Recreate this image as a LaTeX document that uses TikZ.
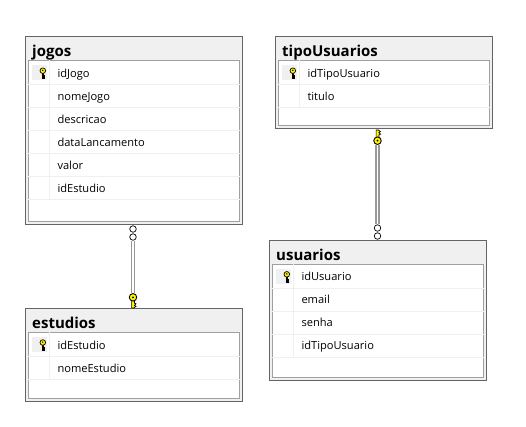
\documentclass[tikz,border=0pt]{standalone}
\usepackage{fontspec}
\setmainfont{Open Sans}
\usetikzlibrary{positioning}
\definecolor{boxline}{HTML}{646464}
\definecolor{inline}{HTML}{A0A0A0}
\definecolor{softgray}{HTML}{F0F0F0}
\definecolor{keyyellow}{HTML}{FFF200}
\tikzset{
	tablebox/.style={draw=boxline,line width=1pt,fill=softgray,minimum width=217pt,inner sep=0pt},
	tablein/.style={draw=inline,line width=1pt,fill=white,minimum width=211.5pt,inner sep=0pt},
	tabletitle/.style={anchor=base west,inner sep=0pt,font=\fontsize{15}{16}\selectfont\bfseries},
	fieldname/.style={anchor=west,minimum width=190pt,minimum height=23pt,text width=182pt,text height=9.2pt,text depth=0pt,inner xsep=8pt,inner ysep=0pt,font=\fontsize{11.1}{12}\selectfont},
	keycell/.style={fill=softgray,minimum width=15pt,minimum height=15pt,inner sep=0pt},
	rowline/.style={draw=softgray,line width=1pt},
	relbar/.style={draw=gray!80,line width=1.2pt,double=white,double distance=1.8pt},
	crowring/.style={circle,draw=black,fill=white,line width=0.7pt,minimum size=6.5pt,inner sep=0pt},
	keyhole/.style={circle,draw=black,fill=keyyellow,line width=0.9pt,minimum size=7.5pt,inner sep=0pt},
	smallkey/.pic={
		\path[draw=black,fill=keyyellow,line width=0.7pt] (-0.6,-1.5) -- (-0.6,-8) -- (2.2,-8) -- (2.2,-6.6) -- (1.2,-6.6) -- (1.2,-5.9) -- (2.2,-5.9) -- (2.2,-4.6) -- (1.2,-4.6) -- (1.2,-1.5) -- cycle;
		\path[draw=black,fill=keyyellow,line width=0.7pt] (0.3,0) circle (2.8pt);
		\fill (0.3,0.4) circle (0.8pt);
	},
	bigkey/.pic={
		\path[draw=black,fill=keyyellow,line width=0.7pt] (-1.4,-3) -- (-1.4,-10.7) -- (0.8,-10.7) -- (3,-9) -- (1.4,-8.2) -- (3,-6.5) -- (1.4,-5.8) -- (1.4,-3) -- cycle;
	}
}
\begin{document}
\begin{tikzpicture}[x=1pt,y=1pt,node distance=23pt,on grid]
	\useasboundingbox (0,0) rectangle (526,-426);
	% jogos
	\node[tablebox,minimum height=187.5pt] (jogos) at (134,-130.3) {};
	\node[tablein,minimum height=160.5pt] (jogos_in) [below=10.5pt of jogos] {};
	\node[tabletitle] (jogos_t) at (32,-56.5) {jogos};
	\node[fieldname] (idJogo) at (49.3,-72.7) {idJogo};
	\node[fieldname] (nomeJogo) [below=of idJogo] {nomeJogo};
	\node[fieldname] (descricao) [below=of nomeJogo] {descricao};
	\node[fieldname] (dataLancamento) [below=of descricao] {dataLancamento};
	\node[fieldname] (valor) [below=of dataLancamento] {valor};
	\node[fieldname] (jogos_idEstudio) [below=of valor] {idEstudio};
	\foreach \f in {idJogo,nomeJogo,descricao,dataLancamento,valor,jogos_idEstudio}
		\draw[rowline] (\f.south -| jogos_in.west) -- (\f.south -| jogos_in.east);
	\draw[rowline] (jogos_in.north -| idJogo.west) -- (jogos_idEstudio.south west);
	\node[keycell] (key_jogos) [left=2pt of idJogo.west] {};
	\pic at (42.5,-70.7) {smallkey};

	% estudios
	\node[tablebox,minimum height=93pt] (estudios) at (134,-354.5) {};
	\node[tablein,minimum height=66pt] (estudios_in) [below=10.5pt of estudios] {};
	\node[tabletitle] (estudios_t) at (32,-328.5) {estudios};
	\node[fieldname] (estudios_idEstudio) at (49.3,-344.5) {idEstudio};
	\node[fieldname] (nomeEstudio) [below=of estudios_idEstudio] {nomeEstudio};
	\foreach \f in {estudios_idEstudio,nomeEstudio}
		\draw[rowline] (\f.south -| estudios_in.west) -- (\f.south -| estudios_in.east);
	\draw[rowline] (estudios_in.north -| estudios_idEstudio.west) -- (nomeEstudio.south west);
	\node[keycell] (key_estudios) [left=2pt of estudios_idEstudio.west] {};
	\pic at (42.5,-342.5) {smallkey};

	% tipoUsuarios
	\node[tablebox,minimum height=91.5pt] (tipoUsuarios) at (384,-82.3) {};
	\node[tablein,minimum height=64.5pt] (tipoUsuarios_in) [below=10.5pt of tipoUsuarios] {};
	\node[tabletitle] (tipoUsuarios_t) at (282,-56.5) {tipoUsuarios};
	\node[fieldname] (idTipoUsuario) at (299.3,-72.7) {idTipoUsuario};
	\node[fieldname] (titulo) [below=of idTipoUsuario] {titulo};
	\foreach \f in {idTipoUsuario,titulo}
		\draw[rowline] (\f.south -| tipoUsuarios_in.west) -- (\f.south -| tipoUsuarios_in.east);
	\draw[rowline] (tipoUsuarios_in.north -| idTipoUsuario.west) -- (titulo.south west);
	\node[keycell] (key_tipo) [left=2pt of idTipoUsuario.west] {};
	\pic at (292.5,-70.7) {smallkey};

	% usuarios
	\node[tablebox,minimum height=139.7pt] (usuarios) at (378,-310.2) {};
	\node[tablein,minimum height=113.4pt] (usuarios_in) [below=10.8pt of usuarios] {};
	\node[tabletitle] (usuarios_t) at (276,-260.5) {usuarios};
	\node[fieldname] (idUsuario) at (293.3,-276.3) {idUsuario};
	\node[fieldname] (email) [below=of idUsuario] {email};
	\node[fieldname] (senha) [below=of email] {senha};
	\node[fieldname] (usuarios_idTipo) [below=of senha] {idTipoUsuario};
	\foreach \f in {idUsuario,email,senha,usuarios_idTipo}
		\draw[rowline] (\f.south -| usuarios_in.west) -- (\f.south -| usuarios_in.east);
	\draw[rowline] (usuarios_in.north -| idUsuario.west) -- (usuarios_idTipo.south west);
	\node[keycell] (key_usuarios) [left=2pt of idUsuario.west] {};
	\pic at (286.5,-274.3) {smallkey};

	% relationships
	\node[crowring] (ring_a1) at (133,-229) {};
	\node[crowring] (ring_a2) [below=8pt of ring_a1] {};
	\pic at (133,-297.3) {bigkey};
	\node[keyhole] (key_a) at (133,-297.3) {};
	\draw[relbar] (ring_a2) -- (key_a);
	\fill (key_a) circle (1pt);

	\pic[yscale=-1] at (377.5,-140.7) {bigkey};
	\node[keyhole] (key_b) at (377.5,-140.7) {};
	\node[crowring] (ring_b1) at (377.5,-228) {};
	\node[crowring] (ring_b2) [below=8pt of ring_b1] {};
	\draw[relbar] (ring_b1) -- (key_b);
	\fill (key_b) circle (1pt);
\end{tikzpicture}
\end{document}
